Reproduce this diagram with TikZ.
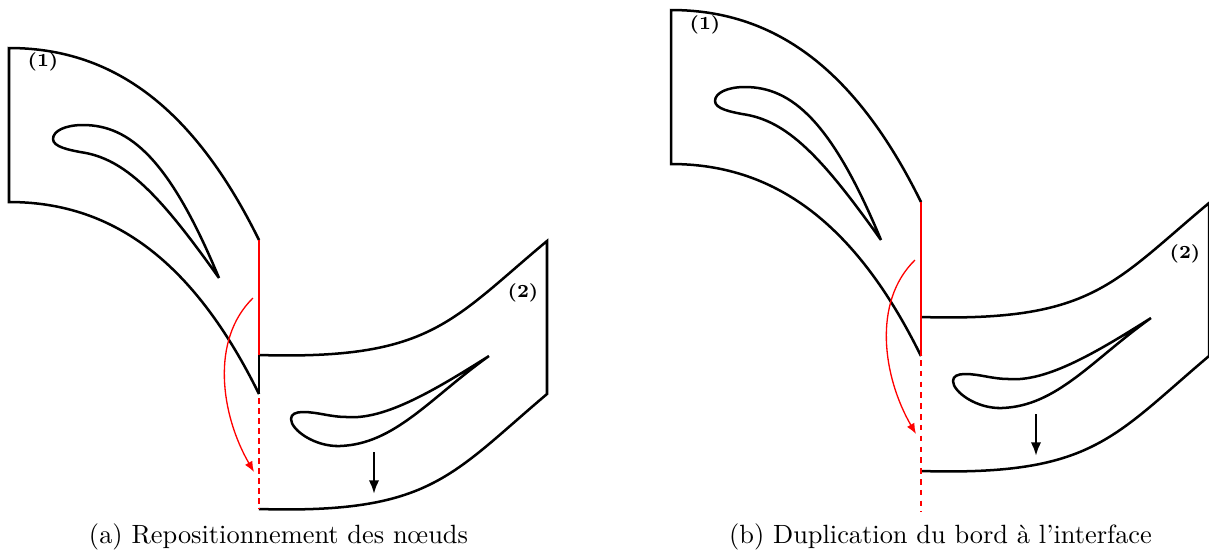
\documentclass[tikz,border=0pt]{standalone}
\usepackage{tikz}
\usetikzlibrary{arrows.meta}
\tikzset{
  wall/.style={black, line width=0.95pt, line join=miter},
  blade/.style={black, line width=0.95pt, line join=round},
  iface/.style={red, line width=1.05pt},
  ifacedash/.style={red, line width=1.1pt, dash pattern=on 2.1pt off 1.7pt},
  ifacethin/.style={red, line width=0.85pt, dash pattern=on 2.1pt off 2pt},
  moved/.style={red, line width=0.5pt, -{Latex[length=4pt,width=3.2pt]}},
  motion/.style={black, line width=1pt, -{Latex[length=5.2pt,width=4pt]}},
  rowlabel/.style={font=\scriptsize\bfseries, inner sep=0pt},
  legend/.style={font=\normalsize, inner sep=0pt, anchor=base}
}
% upstream row, without its right edge
\newcommand{\rowone}{%
  \draw[wall] (259,240) .. controls (192,104) and (110,48) .. (9,48) -- (9,202)
    .. controls (110,202) and (192,258) .. (259,394);
  \draw[blade] (219,278) .. controls (170,160) and (130,125) .. (83,125)
    .. controls (65,125) and (53,131) .. (53,139)
    .. controls (53,147) and (70,150) .. (80,152)
    .. controls (125,158) and (160,195) .. (219,278);
}
% downstream row, with the motion arrow
\newcommand{\rowtwo}{%
  \draw[wall] (259,355) .. controls (430,360) and (450,322) .. (547,241) -- (547,394)
    .. controls (450,476) and (430,514) .. (259,509);
  \draw[blade] (489,356) .. controls (435,390) and (385,420) .. (347,417)
    .. controls (330,417) and (318,412) .. (303,412)
    .. controls (296,412) and (291,414) .. (291,419)
    .. controls (291,430) and (315,447) .. (340,446)
    .. controls (395,444) and (430,398) .. (489,356);
  \draw[motion] (374,452) -- (374,494);
}
\begin{document}
\begin{tikzpicture}[x=0.379pt, y=-0.379pt]
  \useasboundingbox (0,0) rectangle (1209,552);
  % (a)
  \rowone
  \rowtwo
  \draw[wall] (259,355) -- (259,394);
  \draw[iface] (259,240) -- (259,355);
  \draw[ifacedash] (259,398) -- (259,509);
  \draw[moved] (253,298) .. controls (210,340) and (221,415) .. (254,472);
  \node[rowlabel] (labelonea) at (43,62) {(1)};
  \node[rowlabel] (labeltwoa) at (523,293) {(2)};
  \node[legend] (legenda) at (278.5,543) {(a) Repositionnement des n\oe uds};
  % (b)
  \begin{scope}[shift={(662,-38)}]
    \rowone
    \rowtwo
    \draw[iface] (259,240) -- (259,394);
    \draw[ifacethin] (259,398) -- (259,550);
    \draw[moved] (253,298) .. controls (210,340) and (221,415) .. (254,472);
    \node[rowlabel] (labeloneb) at (43,63) {(1)};
    \node[rowlabel] (labeltwob) at (523,292) {(2)};
    \node[legend] (legendb) at (278.5,581) {(b) Duplication du bord \`a l'interface};
  \end{scope}
\end{tikzpicture}
\end{document}
